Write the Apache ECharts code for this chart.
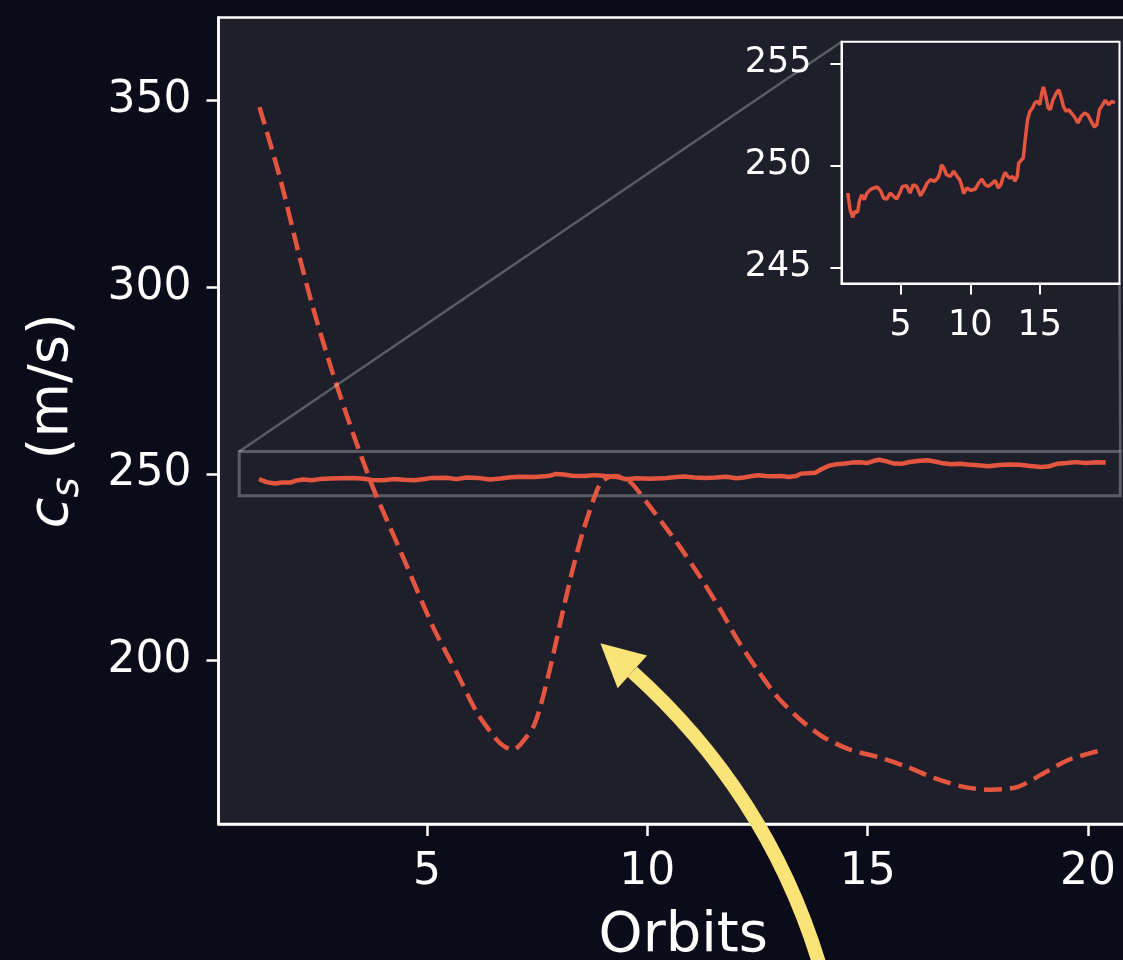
<!DOCTYPE html>
<html>
<head>
<meta charset="utf-8">
<title>Sound speed over orbits</title>
<script src="https://cdn.jsdelivr.net/npm/echarts@6/dist/echarts.min.js"></script>
<style>
  html, body { margin: 0; padding: 0; background: #0b0b19; }
  #chart { width: 1123px; height: 960px; }
</style>
</head>
<body>
<div id="chart"></div>
<script>
// Measured sound speed c_s (m/s) per orbit (solid trace)
const orbit = [
  1.19, 1.36, 1.55, 1.71, 1.90, 2.02, 2.19, 2.38, 2.57, 2.81,
  3.05, 3.33, 3.57, 3.76, 4.00, 4.24, 4.48, 4.71, 4.95, 5.12,
  5.43, 5.67, 5.90, 6.14, 6.43, 6.67, 6.90, 7.14, 7.43, 7.67,
  7.81, 7.93, 8.10, 8.29, 8.57, 8.81, 9.05, 9.24, 9.40, 9.52,
  9.76, 10.05, 10.36, 10.60, 10.83, 11.07, 11.31, 11.55, 11.79, 12.02,
  12.19, 12.38, 12.52, 12.69, 12.86, 13.05, 13.21, 13.38, 13.48, 13.62,
  13.81, 13.95, 14.12, 14.29, 14.48, 14.64, 14.81, 15.00, 15.14, 15.26,
  15.43, 15.60, 15.76, 15.95, 16.19, 16.36, 16.55, 16.71, 16.90, 17.10,
  17.26, 17.50, 17.74, 17.98, 18.21, 18.45, 18.69, 18.93, 19.10, 19.29,
  19.52, 19.71, 19.95, 20.19, 20.40
];
const soundSpeed = [
  248.64, 247.83, 247.45, 247.75, 247.70, 248.24, 248.56, 248.32, 248.64, 248.81,
  248.89, 248.94, 248.73, 248.40, 248.35, 248.64, 248.48, 248.35, 248.68, 248.97,
  249.00, 248.64, 249.05, 248.97, 248.51, 248.81, 249.13, 249.30, 249.22, 249.38,
  249.62, 250.03, 249.87, 249.54, 249.46, 249.71, 249.46, 249.30, 248.97, 248.61,
  248.89, 248.77, 248.84, 249.13, 249.33, 249.05, 248.97, 249.10, 249.26, 248.89,
  249.05, 249.46, 249.66, 249.46, 249.38, 249.46, 249.22, 249.46, 250.11, 250.20,
  250.36, 251.26, 252.24, 252.65, 252.81, 253.06, 253.14, 252.97, 253.55, 253.84,
  253.38, 252.81, 252.73, 253.22, 253.55, 253.71, 253.30, 252.86, 252.65, 252.73,
  252.57, 252.37, 252.08, 252.40, 252.57, 252.48, 252.16, 251.88, 251.99, 252.73,
  252.97, 253.19, 252.97, 253.14, 253.06
];

// Oscillating comparison trace (dashed)
const dashOrbit = [
  1.20, 1.66, 2.11, 2.41, 2.86, 3.32, 3.77, 4.16, 4.39, 5.14,
  5.68, 6.14, 6.59, 6.77, 6.95, 7.11, 7.41, 7.57, 7.80, 8.09,
  8.32, 8.55, 8.86, 9.00, 9.27, 9.61, 10.00, 10.68, 11.20, 11.66,
  12.05, 12.50, 12.95, 13.48, 14.00, 14.61, 15.23, 15.91, 16.50, 17.18,
  17.80, 18.41, 19.00, 19.55, 20.07, 20.34
];
const dashSpeed = [
  348.3, 329.6, 308.1, 294.7, 277.1, 261.0, 246.5, 235.8, 229.6, 209.0,
  196.7, 186.0, 178.7, 176.9, 176.1, 177.4, 182.2, 187.6, 198.3, 213.6,
  225.1, 235.0, 245.7, 248.4, 249.5, 247.9, 242.2, 231.5, 222.4, 213.6,
  205.5, 197.5, 190.3, 184.1, 179.5, 176.1, 174.2, 171.5, 168.6, 166.2,
  165.4, 166.2, 169.9, 173.4, 175.3, 176.1
];

// Tick values
const mainXTicks = [5, 10, 15, 20];
const mainYTicks = [200, 250, 300, 350];
const insetXTicks = [5, 10, 15];
const insetYTicks = [245, 250, 255];

// Axis ranges
const mainXRange = [0.27, 21.36];
const mainYRange = [156.25, 372.3];
const insetXRange = [0.74, 20.73];
const insetYRange = [244.21, 256.06];

// Styling
const FONT = 'DejaVu Sans';
const WHITE = '#ffffff';
const RED = '#e4553f';
const YELLOW = '#fae377';
const PANEL = '#1e1f2b';
const GHOST = 'rgba(255,255,255,0.27)';

// Curved pointer, given in data coordinates of the main axes
const pointer = { tail: [14.07, 111.8], bend: [12.95, 162.1], base: [9.66, 197.0] };

const pairs = (xs, ys) => xs.map((x, i) => [x, ys[i]]);

function axisStyle(ticks, fontSize, margin, tickLen, lw) {
  return {
    type: 'value',
    axisLine: { show: true, onZero: false, lineStyle: { color: WHITE, width: lw } },
    axisTick: { show: true, inside: false, length: tickLen, customValues: ticks,
                lineStyle: { color: WHITE, width: lw } },
    axisLabel: { show: true, color: WHITE, fontFamily: FONT, fontSize: fontSize,
                 margin: margin, customValues: ticks },
    splitLine: { show: false }
  };
}

const chart = echarts.init(document.getElementById('chart'), null, { renderer: 'canvas' });

const option = {
  backgroundColor: '#0b0b19',
  animation: false,
  grid: [
    { left: 218.5, top: 17.5, width: 929.5, height: 806.5, show: true,
      backgroundColor: PANEL, borderColor: WHITE, borderWidth: 2.5,
      containLabel: false, outerBoundsMode: 'none' },
    { left: 841.5, top: 41.7, width: 278, height: 241.8, show: true,
      backgroundColor: PANEL, borderColor: WHITE, borderWidth: 2,
      containLabel: false, outerBoundsMode: 'none', z: 10 }
  ],
  xAxis: [
    Object.assign(axisStyle(mainXTicks, 44, 27, 12, 2.5), {
      gridIndex: 0, min: mainXRange[0], max: mainXRange[1],
      name: 'Orbits', nameLocation: 'middle', nameGap: 84,
      nameTextStyle: { color: WHITE, fontFamily: FONT, fontSize: 56 }
    }),
    Object.assign(axisStyle(insetXTicks, 35, 25, 11, 2), {
      gridIndex: 1, min: insetXRange[0], max: insetXRange[1], z: 11
    })
  ],
  yAxis: [
    Object.assign(axisStyle(mainYTicks, 44, 27, 12, 2.5), {
      gridIndex: 0, min: mainYRange[0], max: mainYRange[1],
      name: '{c|c}{s|s}{t| (m/s)}', nameLocation: 'middle', nameGap: 131,
      nameTextStyle: {
        color: WHITE, fontFamily: FONT, fontSize: 56,
        rich: {
          c: { fontFamily: FONT, fontStyle: 'italic', fontSize: 56, lineHeight: 70,
               verticalAlign: 'middle', color: WHITE },
          s: { fontFamily: FONT, fontStyle: 'italic', fontSize: 39, lineHeight: 39,
               verticalAlign: 'bottom', color: WHITE },
          t: { fontFamily: FONT, fontSize: 56, lineHeight: 70,
               verticalAlign: 'middle', color: WHITE }
        }
      }
    }),
    Object.assign(axisStyle(insetYTicks, 35, 30, 11, 2), {
      gridIndex: 1, min: insetYRange[0], max: insetYRange[1], z: 11
    })
  ],
  series: [
    {
      name: 'c_s', type: 'line', xAxisIndex: 0, yAxisIndex: 0,
      data: pairs(orbit, soundSpeed), showSymbol: false, symbol: 'none',
      lineStyle: { color: RED, width: 4.5 }, z: 3, silent: true,
      markArea: {
        silent: true,
        itemStyle: { color: 'rgba(0,0,0,0)', borderColor: GHOST, borderWidth: 3 },
        label: { show: false },
        data: [[
          { coord: [insetXRange[0], insetYRange[0]] },
          { coord: [insetXRange[1], insetYRange[1]] }
        ]]
      }
    },
    {
      name: 'c_s dashed', type: 'line', xAxisIndex: 0, yAxisIndex: 0,
      data: pairs(dashOrbit, dashSpeed), showSymbol: false, symbol: 'none',
      smooth: 0.25,
      lineStyle: { color: RED, width: 4.5, type: [18, 8] }, z: 2, silent: true
    },
    {
      name: 'c_s inset', type: 'line', xAxisIndex: 1, yAxisIndex: 1,
      data: pairs(orbit, soundSpeed), showSymbol: false, symbol: 'none',
      lineStyle: { color: RED, width: 3.5 }, z: 12, silent: true
    }
  ]
};

chart.setOption(option);

// Connector lines from the zoom box to the inset, and the curved pointer
const toMain = p => chart.convertToPixel({ gridIndex: 0 }, p);
const toInset = p => chart.convertToPixel({ gridIndex: 1 }, p);

const boxTL = toMain([insetXRange[0], insetYRange[1]]);
const boxTR = toMain([insetXRange[1], insetYRange[1]]);
const insTL = toInset([insetXRange[0], insetYRange[1]]);
const insBR = toInset([insetXRange[1], insetYRange[0]]);

const p0 = toMain(pointer.tail);
const c1 = toMain(pointer.bend);
const p2 = toMain(pointer.base);
const dx = p2[0] - c1[0], dy = p2[1] - c1[1];
const L = Math.hypot(dx, dy);
const ux = dx / L, uy = dy / L;
const headLen = 43, headHalf = 22;
const tip = [p2[0] + ux * headLen, p2[1] + uy * headLen];
const wingA = [p2[0] - uy * headHalf, p2[1] + ux * headHalf];
const wingB = [p2[0] + uy * headHalf, p2[1] - ux * headHalf];

chart.setOption({
  graphic: [
    { type: 'line', z: 5, silent: true,
      shape: { x1: boxTL[0], y1: boxTL[1], x2: insTL[0], y2: insTL[1] },
      style: { stroke: GHOST, lineWidth: 2.5 } },
    { type: 'line', z: 5, silent: true,
      shape: { x1: boxTR[0], y1: boxTR[1], x2: insBR[0], y2: insBR[1] },
      style: { stroke: GHOST, lineWidth: 2.5 } },
    { type: 'bezierCurve', z: 100, silent: true,
      shape: { x1: p0[0], y1: p0[1], cpx1: c1[0], cpy1: c1[1], x2: p2[0], y2: p2[1] },
      style: { stroke: YELLOW, lineWidth: 14, fill: null } },
    { type: 'polygon', z: 100, silent: true,
      shape: { points: [tip, wingA, wingB] },
      style: { fill: YELLOW } }
  ]
});
</script>
</body>
</html>
